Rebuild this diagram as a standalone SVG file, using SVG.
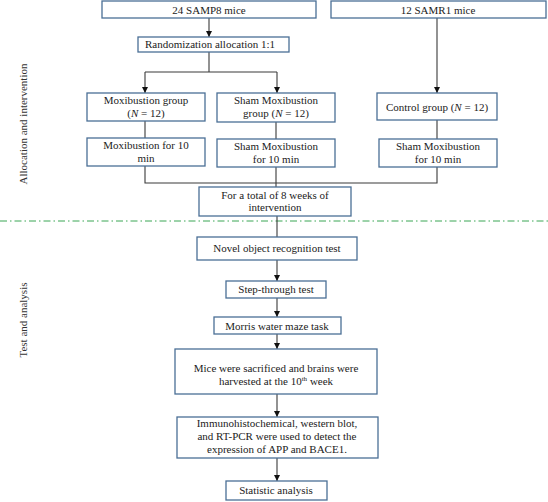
<svg xmlns="http://www.w3.org/2000/svg" width="548" height="502" viewBox="0 0 548 502">
<style>
.box{fill:#fff;stroke:#4a6f96;stroke-width:1.3}
.t{font-family:"Liberation Serif","Times New Roman",serif;font-size:11px;fill:#222;text-anchor:middle}
.side{font-family:"Liberation Serif","Times New Roman",serif;font-size:11px;fill:#333;text-anchor:middle}
.c{fill:none;stroke:#3a3a3a;stroke-width:1.1}
.a{fill:none;stroke:#3a3a3a;stroke-width:1.1;marker-end:url(#ah)}
</style>
<defs>
<marker id="ah" viewBox="0 0 8 8" refX="8" refY="4" markerWidth="6" markerHeight="6" markerUnits="userSpaceOnUse" orient="auto">
<path d="M0,0 L8,4 L0,8 z" fill="#111"/>
</marker>
</defs>
<rect width="548" height="502" fill="#fff"/>
<text class="side" transform="translate(27,124) rotate(-90)">Allocation and intervention</text>
<text class="side" transform="translate(27,320) rotate(-90)">Test and analysis</text>
<line x1="0" y1="221" x2="548" y2="221" stroke="#3aa655" stroke-width="1" stroke-dasharray="7 3 1.5 3"/>
<g id="connectors">
<path class="a" d="M209,18 V37"/>
<path class="c" d="M209,52 V72 M145,72 H277"/>
<path class="a" d="M145,72 V93"/>
<path class="a" d="M277,72 V93"/>
<path class="a" d="M437,18 V93"/>
<path class="c" d="M145,121 V138 M276,122 V139 M437,120 V139"/>
<path class="c" d="M145,166 V183 H437 V167 M276,167 V187"/>
<path class="c" d="M277,216 V237"/>
<path class="a" d="M277,260 V281"/>
<path class="a" d="M277,298 V317"/>
<path class="a" d="M277,334 V349"/>
<path class="a" d="M277,394 V417"/>
<path class="a" d="M277,458 V481"/>
</g>
<g id="samp8"><rect class="box" x="102" y="1" width="214" height="17"/><text class="t" x="209" y="13.5">24 SAMP8 mice</text></g>
<g id="samr1"><rect class="box" x="331" y="1" width="215" height="17"/><text class="t" x="438" y="13.5">12 SAMR1 mice</text></g>
<g id="random"><rect class="box" x="138" y="37" width="151" height="15"/><text class="t" x="210" y="48">Randomization allocation 1:1</text></g>
<g id="moxgroup"><rect class="box" x="87" y="93" width="118" height="28"/><text class="t" x="146" y="104">Moxibustion group</text><text class="t" x="146" y="117">(<tspan font-style="italic">N</tspan> = 12)</text></g>
<g id="shamgroup"><rect class="box" x="217" y="93" width="118" height="29"/><text class="t" x="276" y="104">Sham Moxibustion</text><text class="t" x="276" y="117">group (<tspan font-style="italic">N</tspan> = 12)</text></g>
<g id="control"><rect class="box" x="377" y="93" width="120" height="27"/><text class="t" x="437" y="111">Control group (<tspan font-style="italic">N</tspan> = 12)</text></g>
<g id="mox10"><rect class="box" x="87" y="138" width="118" height="28"/><text class="t" x="146" y="149">Moxibustion for 10</text><text class="t" x="146" y="162">min</text></g>
<g id="sham10"><rect class="box" x="217" y="139" width="118" height="28"/><text class="t" x="276" y="150">Sham Moxibustion</text><text class="t" x="276" y="163">for 10 min</text></g>
<g id="ctrl10"><rect class="box" x="379" y="139" width="118" height="28"/><text class="t" x="438" y="150">Sham Moxibustion</text><text class="t" x="438" y="163">for 10 min</text></g>
<g id="total"><rect class="box" x="199" y="187" width="152" height="29"/><text class="t" x="275" y="199">For a total of 8 weeks of</text><text class="t" x="275" y="211">intervention</text></g>
<g id="novel"><rect class="box" x="197" y="237" width="160" height="23"/><text class="t" x="277" y="252">Novel object recognition test</text></g>
<g id="step"><rect class="box" x="226" y="281" width="100" height="17"/><text class="t" x="276" y="293">Step-through test</text></g>
<g id="morris"><rect class="box" x="214" y="317" width="127" height="17"/><text class="t" x="277" y="329.5">Morris water maze task</text></g>
<g id="mice"><rect class="box" x="175" y="349" width="202" height="45"/><text class="t" x="276" y="372">Mice were sacrificed and brains were</text><text class="t" x="276" y="385">harvested at the 10<tspan font-size="7" dy="-4">th</tspan><tspan dy="4"> week</tspan></text></g>
<g id="immuno"><rect class="box" x="177" y="417" width="201" height="41"/><text class="t" x="277" y="427">Immunohistochemical, western blot,</text><text class="t" x="277" y="440">and RT-PCR were used to detect the</text><text class="t" x="277" y="453">expression of APP and BACE1.</text></g>
<g id="stat"><rect class="box" x="226" y="481" width="101" height="19"/><text class="t" x="276" y="494">Statistic analysis</text></g>
</svg>
